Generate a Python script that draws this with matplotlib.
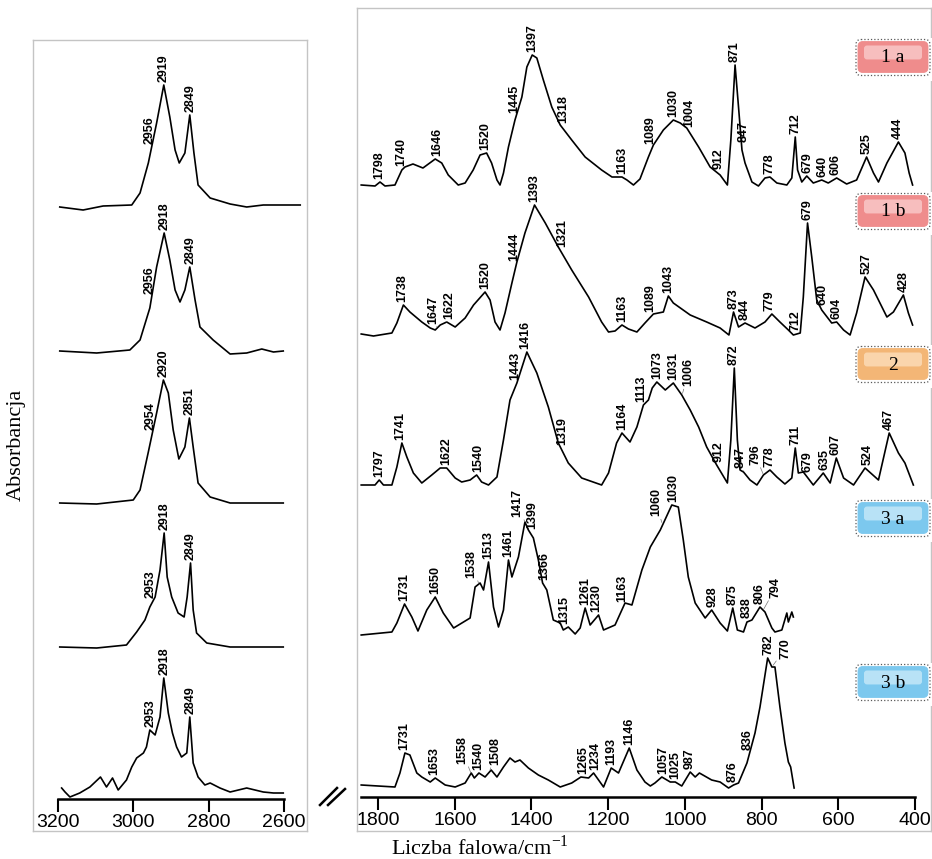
import numpy as np
import matplotlib.pyplot as plt
from matplotlib.patches import FancyBboxPatch, Rectangle

plt.rcParams['font.family'] = ['Liberation Sans', 'DejaVu Sans']
plt.rcParams['mathtext.fontset'] = 'custom'
plt.rcParams['mathtext.rm'] = 'Liberation Serif'

# ---------------- dane: zakres C-H (3200-2600 cm-1), absorbancja wzgledna ----------------
ch_wn_1a = [3195, 3133, 3080, 3004, 2982, 2960, 2938, 2919, 2903, 2889, 2878, 2863, 2850, 2839,
            2828, 2796, 2743, 2699, 2655, 2557]
ch_ab_1a = [-0.01, -0.04, 0.0, 0.01, 0.13, 0.43, 0.83, 1.21, 0.89, 0.56, 0.43, 0.53, 0.91, 0.53,
            0.21, 0.08, 0.02, -0.01, 0.01, 0.01]

ch_wn_1b = [3195, 3097, 3009, 2982, 2956, 2938, 2918, 2903, 2889, 2876, 2863, 2850, 2836, 2823,
            2788, 2743, 2699, 2659, 2628, 2602]
ch_ab_1b = [0.01, -0.01, 0.02, 0.12, 0.44, 0.85, 1.19, 0.92, 0.62, 0.50, 0.62, 0.85, 0.52, 0.25,
            0.12, -0.02, -0.01, 0.03, 0.0, 0.01]

ch_wn_2 = [3195, 3097, 3000, 2982, 2960, 2938, 2920, 2907, 2894, 2879, 2863, 2851, 2841, 2828,
           2796, 2743, 2655, 2602]
ch_ab_2 = [0.0, -0.01, 0.03, 0.13, 0.51, 0.90, 1.23, 1.10, 0.73, 0.44, 0.56, 0.85, 0.56, 0.20,
           0.06, 0.0, 0.0, 0.0]

ch_wn_3a = [3195, 3097, 3018, 2991, 2969, 2956, 2942, 2929, 2918, 2910, 2898, 2881, 2865, 2857,
            2848, 2841, 2832, 2805, 2743, 2602]
ch_ab_3a = [0.0, -0.01, 0.02, 0.15, 0.27, 0.40, 0.50, 0.77, 1.14, 0.70, 0.50, 0.34, 0.30, 0.50,
            0.84, 0.37, 0.14, 0.04, 0.0, 0.0]

ch_wn_3b = [3190, 3181, 3168, 3142, 3115, 3087, 3071, 3055, 3040, 3018, 3004, 2991, 2973, 2965,
            2956, 2942, 2929, 2919, 2907, 2896, 2885, 2872, 2858, 2850, 2841, 2828, 2810, 2796,
            2770, 2743, 2699, 2655, 2628, 2602]
ch_ab_3b = [0.05, 0.01, -0.04, 0.0, 0.06, 0.16, 0.06, 0.15, 0.03, 0.13, 0.26, 0.35, 0.40, 0.46,
            0.63, 0.58, 0.76, 1.15, 0.80, 0.60, 0.46, 0.36, 0.40, 0.76, 0.30, 0.16, 0.08, 0.10,
            0.05, 0.01, 0.05, 0.01, 0.0, 0.0]

ch_peaks_1a = [2956, 2919, 2849]
ch_peaks_1b = [2956, 2918, 2849]
ch_peaks_2 = [2954, 2920, 2851]
ch_peaks_3a = [2953, 2918, 2849]
ch_peaks_3b = [2953, 2918, 2849]

# ---------------- dane: zakres 1850-400 cm-1 ----------------
fp_wn_1a = [1844, 1808, 1795, 1782, 1756, 1738, 1730, 1709, 1683, 1651, 1634, 1617, 1591, 1573,
            1552, 1534, 1517, 1504, 1490, 1482, 1473, 1460, 1443, 1425, 1412, 1398, 1386, 1369,
            1347, 1325, 1295, 1260, 1217, 1190, 1164, 1151, 1134, 1117, 1095, 1082, 1056, 1030,
            1012, 995, 964, 934, 908, 889, 880, 869, 860, 851, 843, 825, 808, 791, 778, 760,
            734, 721, 712, 706, 695, 682, 665, 643, 626, 604, 578, 552, 526, 508, 495, 473,
            443, 426, 415, 406]
fp_ab_1a = [0.0, -0.01, 0.03, -0.01, 0.0, 0.15, 0.18, 0.21, 0.17, 0.26, 0.22, 0.10, 0.0, 0.02,
            0.15, 0.30, 0.32, 0.22, 0.05, 0.0, 0.12, 0.38, 0.65, 0.88, 1.18, 1.30, 1.27, 1.05,
            0.78, 0.60, 0.45, 0.28, 0.15, 0.08, 0.08, 0.05, 0.0, 0.06, 0.28, 0.40, 0.55, 0.65,
            0.62, 0.57, 0.38, 0.18, 0.10, 0.0, 0.45, 1.20, 0.78, 0.35, 0.22, 0.03, -0.01, 0.07,
            0.08, 0.02, 0.0, 0.07, 0.48, 0.15, 0.03, 0.09, 0.02, 0.05, 0.02, 0.07, 0.01, 0.05,
            0.28, 0.12, 0.03, 0.22, 0.43, 0.32, 0.12, 0.0]

fp_wn_1b = [1844, 1812, 1764, 1751, 1734, 1717, 1686, 1664, 1651, 1638, 1621, 1599, 1573, 1551,
            1521, 1508, 1495, 1482, 1469, 1451, 1438, 1417, 1392, 1364, 1330, 1295, 1251, 1217,
            1199, 1182, 1164, 1147, 1125, 1104, 1082, 1056, 1043, 1030, 986, 943, 908, 885, 873,
            860, 843, 817, 791, 773, 752, 730, 717, 699, 691, 680, 669, 656, 643, 617, 604, 586,
            569, 552, 530, 508, 473, 456, 430, 417, 406]
fp_ab_1b = [0.01, -0.01, 0.02, 0.12, 0.30, 0.23, 0.13, 0.07, 0.05, 0.10, 0.13, 0.08, 0.17, 0.30,
            0.43, 0.35, 0.13, 0.05, 0.22, 0.52, 0.73, 1.02, 1.30, 1.12, 0.88, 0.65, 0.38, 0.13,
            0.03, 0.04, 0.10, 0.06, 0.03, 0.12, 0.21, 0.23, 0.39, 0.32, 0.20, 0.13, 0.07, 0.0,
            0.23, 0.08, 0.12, 0.07, 0.13, 0.21, 0.13, 0.05, 0.0, 0.02, 0.38, 1.12, 0.78, 0.35,
            0.25, 0.12, 0.13, 0.05, 0.0, 0.22, 0.58, 0.45, 0.18, 0.23, 0.40, 0.22, 0.10]

fp_wn_2 = [1844, 1808, 1797, 1786, 1764, 1751, 1738, 1725, 1708, 1686, 1660, 1638, 1621, 1599,
           1582, 1560, 1543, 1530, 1512, 1490, 1473, 1456, 1438, 1412, 1386, 1356, 1330, 1304,
           1269, 1217, 1199, 1178, 1164, 1143, 1125, 1108, 1095, 1085, 1073, 1051, 1030, 1008,
           986, 964, 943, 917, 889, 880, 871, 863, 856, 847, 830, 812, 795, 778, 760, 739, 721,
           712, 704, 691, 665, 639, 621, 605, 586, 560, 530, 495, 467, 443, 426, 404]
fp_ab_2 = [0.0, 0.0, 0.05, 0.0, 0.0, 0.18, 0.42, 0.28, 0.12, 0.02, 0.10, 0.17, 0.17, 0.07,
           0.03, 0.05, 0.10, 0.03, 0.0, 0.08, 0.45, 0.85, 1.02, 1.33, 1.12, 0.78, 0.42, 0.22,
           0.07, 0.0, 0.12, 0.42, 0.52, 0.43, 0.58, 0.80, 0.85, 0.97, 1.03, 0.95, 1.02, 0.90,
           0.75, 0.58, 0.38, 0.20, 0.02, 0.45, 1.17, 0.45, 0.15, 0.13, 0.05, 0.0, 0.10, 0.15,
           0.08, 0.01, 0.07, 0.37, 0.12, 0.13, 0.0, 0.12, 0.02, 0.27, 0.07, 0.0, 0.17, 0.05,
           0.52, 0.32, 0.22, 0.0]

fp_wn_3a = [1844, 1764, 1751, 1731, 1712, 1696, 1673, 1651, 1630, 1603, 1560, 1547, 1534, 1525,
            1512, 1499, 1486, 1473, 1467, 1460, 1451, 1434, 1417, 1408, 1395, 1382, 1371, 1360,
            1343, 1325, 1317, 1304, 1286, 1273, 1260, 1247, 1225, 1212, 1182, 1156, 1138, 1112,
            1090, 1064, 1034, 1017, 1004, 991, 973, 947, 930, 908, 889, 875, 863, 847, 838, 825,
            804, 791, 773, 765, 747, 734, 730, 721, 717]
fp_ab_3a = [0.0, 0.03, 0.12, 0.31, 0.18, 0.04, 0.25, 0.38, 0.22, 0.07, 0.17, 0.48, 0.52, 0.45,
            0.73, 0.28, 0.08, 0.25, 0.48, 0.75, 0.58, 0.78, 1.13, 1.05, 0.97, 0.75, 0.52, 0.45,
            0.15, 0.12, 0.05, 0.08, 0.01, 0.07, 0.27, 0.10, 0.20, 0.05, 0.10, 0.32, 0.30, 0.65,
            0.88, 1.05, 1.30, 1.28, 0.95, 0.58, 0.32, 0.17, 0.25, 0.12, 0.04, 0.27, 0.05, 0.03,
            0.13, 0.15, 0.28, 0.23, 0.07, 0.03, 0.05, 0.22, 0.13, 0.23, 0.18]

fp_wn_3b = [1844, 1756, 1743, 1730, 1717, 1699, 1686, 1664, 1651, 1625, 1599, 1573, 1557, 1549,
            1537, 1521, 1505, 1490, 1473, 1456, 1443, 1430, 1408, 1382, 1356, 1325, 1295, 1271,
            1251, 1238, 1212, 1192, 1173, 1145, 1125, 1104, 1090, 1078, 1060, 1038, 1025, 1008,
            986, 973, 962, 930, 908, 886, 873, 860, 838, 817, 804, 784, 773, 765, 752, 739, 730,
            724, 715]
fp_ab_3b = [0.02, 0.0, 0.14, 0.34, 0.32, 0.14, 0.10, 0.05, 0.09, 0.02, 0.0, 0.04, 0.14, 0.09,
            0.14, 0.10, 0.17, 0.10, 0.20, 0.29, 0.25, 0.27, 0.19, 0.12, 0.07, 0.0, 0.04, 0.10,
            0.09, 0.14, 0.0, 0.19, 0.14, 0.39, 0.17, 0.05, 0.01, 0.04, 0.10, 0.05, 0.05, 0.01,
            0.15, 0.10, 0.14, 0.07, 0.05, -0.01, 0.02, 0.04, 0.24, 0.54, 0.80, 1.29, 1.20, 1.20,
            0.80, 0.44, 0.25, 0.20, -0.01]

fp_peaks_1a = [1798, 1740, 1646, 1520, 1445, 1397, 1318, 1163, 1089, 1030, 1004, 912, 871, 847,
               778, 712, 679, 640, 606, 525, 444]
fp_peaks_1b = [1738, 1647, 1622, 1520, 1444, 1393, 1321, 1163, 1089, 1043, 873, 844, 779, 712,
               679, 640, 604, 527, 428]
fp_peaks_2 = [1797, 1741, 1622, 1540, 1443, 1416, 1319, 1164, 1113, 1073, 1031, 1006, 912, 872,
              847, 796, 778, 711, 679, 635, 607, 524, 467]
fp_peaks_3a = [1731, 1650, 1538, 1513, 1461, 1417, 1399, 1366, 1315, 1261, 1230, 1163, 1060,
               1030, 928, 875, 838, 806, 794]
fp_peaks_3b = [1731, 1653, 1558, 1540, 1508, 1265, 1234, 1193, 1146, 1057, 1025, 987, 876, 836,
               782, 770]

samples = ['1 a', '1 b', '2', '3 a', '3 b']

# ---------------- uklad ----------------
W, H = 932, 859
ch_off = [6.25, 4.79, 3.28, 1.84, 0.38]
fp_off = [6.46, 4.96, 3.46, 1.96, 0.44]

# przesuniecia etykiet (piksele): (widmo, pasmo) -> (dx, dy)
nudge = {('fp', 0, 1004): (6, -6), ('fp', 1, 1647): (-4, 0), ('fp', 1, 1622): (3, 0),
         ('fp', 2, 1006): (6, 4), ('fp', 2, 796): (-8, 6), ('fp', 2, 847): (-3, 0),
         ('fp', 3, 1538): (-7, 2), ('fp', 3, 1417): (-8, 2), ('fp', 3, 1060): (-6, 3),
         ('fp', 3, 794): (12, 8), ('fp', 4, 1558): (-9, 6), ('fp', 4, 1508): (5, 2),
         ('fp', 4, 770): (12, 3)}

fig = plt.figure(figsize=(W / 100, H / 100), dpi=100)


def rect(x0, y0, x1, y1):
    return [x0 / W, 1 - y1 / H, (x1 - x0) / W, (y1 - y0) / H]


ax_l = fig.add_axes(rect(33, 40, 307, 831))
ax_r = fig.add_axes(rect(357, 8, 931, 831))
ax_l.set_xlim(3266, 2539)
ax_l.set_ylim(0, 7.91)
ax_r.set_xlim(1855, 358)
ax_r.set_ylim(0, 8.23)

for ax in (ax_l, ax_r):
    ax.set_xticks([])
    ax.set_yticks([])
    for s in ax.spines.values():
        s.set_color('#c4c4c4')
        s.set_linewidth(1.0)


def wn_axis(ax, frac, ticks, lo, hi):
    sec = ax.secondary_xaxis(frac)
    sec.set_xticks(ticks)
    sec.tick_params(direction='out', length=9, width=1.5, labelsize=14, pad=2)
    sec.spines['bottom'].set_linewidth(1.8)
    sec.spines['bottom'].set_bounds(lo, hi)


wn_axis(ax_l, 32 / 791, [3200, 3000, 2800, 2600], 3200, 2600)
wn_axis(ax_r, 34 / 823, [1800, 1600, 1400, 1200, 1000, 800, 600, 400], 1845, 400)


def draw(ax, wn, ab, off, peaks, key, i):
    wn = np.array(wn)
    ab = np.array(ab)
    ax.plot(wn, ab + off, color='black', lw=1.2)
    xs, ys = wn[::-1], ab[::-1]
    for p in peaks:
        y = np.interp(np.linspace(p - 5, p + 5, 11), xs, ys).max() + off
        dx, dy = nudge.get((key, i, p), (0, 0))
        arrow = dict(arrowstyle='-', lw=0.5, color='0.45', shrinkA=0, shrinkB=0) if (dx or dy) else None
        ax.annotate(str(p), xy=(p, y), xytext=(dx, 3 + dy), textcoords='offset pixels',
                    rotation=90, ha='center', va='bottom', fontsize=9, fontweight='bold',
                    arrowprops=arrow)


ch_data = [(ch_wn_1a, ch_ab_1a, ch_peaks_1a), (ch_wn_1b, ch_ab_1b, ch_peaks_1b),
           (ch_wn_2, ch_ab_2, ch_peaks_2), (ch_wn_3a, ch_ab_3a, ch_peaks_3a),
           (ch_wn_3b, ch_ab_3b, ch_peaks_3b)]
fp_data = [(fp_wn_1a, fp_ab_1a, fp_peaks_1a), (fp_wn_1b, fp_ab_1b, fp_peaks_1b),
           (fp_wn_2, fp_ab_2, fp_peaks_2), (fp_wn_3a, fp_ab_3a, fp_peaks_3a),
           (fp_wn_3b, fp_ab_3b, fp_peaks_3b)]

for i, (wn, ab, pk) in enumerate(ch_data):
    draw(ax_l, wn, ab, ch_off[i], pk, 'ch', i)
for i, (wn, ab, pk) in enumerate(fp_data):
    draw(ax_r, wn, ab, fp_off[i], pk, 'fp', i)

# ---------------- nakladka w pikselach: opisy, znaczniki probek ----------------
ov = fig.add_axes([0, 0, 1, 1], zorder=5)
ov.set_xlim(0, W)
ov.set_ylim(H, 0)
ov.axis('off')

ov.plot([320, 337], [805, 788], color='black', lw=1.8)
ov.plot([328, 345], [805, 789], color='black', lw=1.8)

ov.text(16, 445, 'Absorbancja', rotation=90, ha='center', va='center',
        family='Liberation Serif', fontsize=16)
ov.text(480, 848, r'Liczba falowa/cm$^{\mathrm{-1}}$', ha='center', va='center',
        family='Liberation Serif', fontsize=16)

badge_y = [57, 211, 364, 518, 682]
badge_col = [('#ef8c8c', '#f9c4c4'), ('#ef8c8c', '#f9c4c4'), ('#f3b676', '#fbd9b3'),
             ('#7cc8ee', '#bfe6f8'), ('#7cc8ee', '#bfe6f8')]
for name, yc, (c1, c2) in zip(samples, badge_y, badge_col):
    x0, w, h = 858, 70, 31
    y0 = yc - h / 2
    ov.add_patch(Rectangle((853, y0 - 4), 82, h + 12, fc='white', ec='none'))
    ov.add_patch(FancyBboxPatch((x0 - 2, y0 - 2), w + 4, h + 5,
                                boxstyle='round,pad=0,rounding_size=5',
                                fc='none', ec='0.35', lw=0.9, ls=':'))
    ov.add_patch(FancyBboxPatch((x0, y0), w, h, boxstyle='round,pad=0,rounding_size=5',
                                fc=c1, ec=c1, lw=0.6))
    ov.add_patch(FancyBboxPatch((x0 + 6, y0 + 4), w - 12, h * 0.45,
                                boxstyle='round,pad=0,rounding_size=3',
                                fc=c2, ec='none', alpha=0.9))
    ov.text(x0 + w / 2, yc + 1, name, ha='center', va='center',
            family='Liberation Serif', fontsize=14)

fig.savefig('out.png', dpi=100)
